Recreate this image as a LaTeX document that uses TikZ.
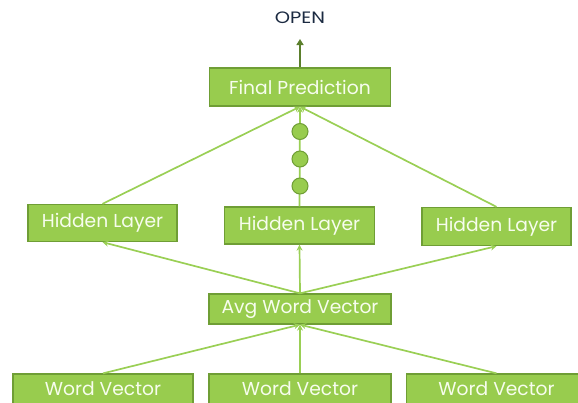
\documentclass[tikz,border=0pt]{standalone}
\usepackage{fontspec}
\setmainfont{Poppins}
\usetikzlibrary{arrows.meta}
\definecolor{boxfill}{HTML}{98CC4E}
\definecolor{boxdraw}{HTML}{6F9E35}
\definecolor{linec}{HTML}{9ACF55}
\definecolor{darkarr}{HTML}{5B7F2C}
\definecolor{navy}{HTML}{1B2A41}
\definecolor{boxtext}{HTML}{F7FDEE}
\begin{document}
\begin{tikzpicture}[x=1pt,y=-1pt,
  gbox/.style={draw=boxdraw,line width=1.3pt,fill=boxfill,text=boxtext,
    font=\fontsize{18.7}{20}\selectfont,inner sep=0pt,anchor=center},
  conn/.style={draw=linec,line width=1.7pt,-{Stealth[length=6pt,width=6pt]}},
  dotc/.style={circle,draw=boxdraw,line width=1pt,fill=boxfill,minimum size=16pt,inner sep=0pt},
  toparr/.style={draw=darkarr,line width=1.6pt,-{Triangle[length=6pt,width=7pt]}}]
\useasboundingbox (0,0) rectangle (578,402);
\clip (0,0) rectangle (578,402);
\node[font=\fontsize{16.5}{18}\selectfont,text=navy] (open) at (300,17.5) {\scalebox{1.18}[1]{OPEN}};
\coordinate (opentip) at (300,39);
\node[gbox,minimum width=181pt,minimum height=38pt] (final) at (300,87) {Final Prediction};
\node[gbox,minimum width=149pt,minimum height=37pt] (hl) at (102.5,223) {Hidden Layer};
\node[gbox,minimum width=150pt,minimum height=37pt] (hm) at (299.5,225.5) {Hidden Layer};
\node[gbox,minimum width=149pt,minimum height=38pt] (hr) at (496.5,226.5) {Hidden Layer};
\node[gbox,minimum width=182pt,minimum height=30pt] (avg) at (300,309) {Avg Word Vector};
\node[gbox,minimum width=180pt,minimum height=30pt] (wl) at (103,389) {Word Vector};
\node[gbox,minimum width=182pt,minimum height=30pt] (wm) at (300,389) {Word Vector};
\node[gbox,minimum width=180pt,minimum height=30pt] (wr) at (496.5,389) {Word Vector};
% connectors
\draw[toparr] (final.north) -- (opentip);
\draw[conn] (avg.north) -- (hl.south);
\draw[conn] (avg.north) -- (hm.south);
\draw[conn] (avg.north) -- (hr.south);
\draw[conn] (wl.north) -- (avg.south);
\draw[conn] (wm.north) -- (avg.south);
\draw[conn] (wr.north) -- (avg.south);
\draw[conn] (hl.north) -- (final.south);
\draw[conn] (hr.north) -- (final.south);
\draw[conn] (hm.north) -- (final.south);
\node[dotc] (d1) at (300,131.5) {};
\node[dotc] (d2) at (300,159) {};
\node[dotc] (d3) at (300,186) {};
\end{tikzpicture}
\end{document}
